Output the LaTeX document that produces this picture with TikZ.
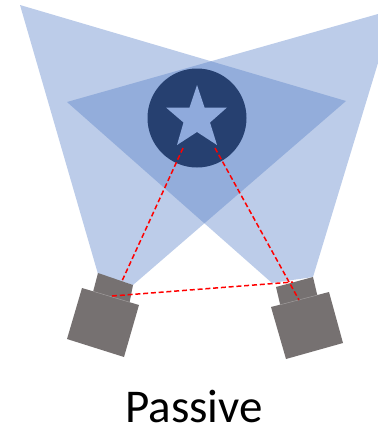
\documentclass[tikz,border=0pt]{standalone}
\usepackage{fontspec}
\setmainfont{Carlito}
\definecolor{cone}{HTML}{BCCCE9}
\definecolor{overlap}{HTML}{93ADDB}
\definecolor{disc}{HTML}{264070}
\definecolor{starc}{HTML}{8FAADC}
\definecolor{cam}{HTML}{767171}
\definecolor{seam}{HTML}{A09C9C}
\tikzset{
  conefill/.style={fill=cone,draw=none},
  camfill/.style={fill=cam,draw=none},
  seamline/.style={draw=seam,line width=0.5pt},
  ray/.style={draw=red,line width=1.5pt,dash pattern=on 5pt off 2.8pt},
}
\begin{document}
\begin{tikzpicture}[x=1pt,y=-1pt]
\useasboundingbox (0,0) rectangle (378,429);
\def\leftcone{(20,5) -- (346,101) -- (133,285) -- (98,274) -- cycle}
\def\rightcone{(378,14) -- (67,102) -- (272,283) -- (313,277) -- (378,63) -- cycle}
\path[conefill] \leftcone;
\path[conefill] \rightcone;
\begin{scope}
  \clip \leftcone;
  \path[fill=overlap] \rightcone;
\end{scope}
\fill[disc] (197,118) circle (49.5);
\fill[starc] (197,85) -- (204.5,107.5) -- (227,107.5) -- (210,122.5) -- (217,145) -- (197,132) -- (177,145) -- (183.5,122.5) -- (166,107.5) -- (189.5,107.5) -- cycle;
\path[camfill] (98,273) -- (133,285) -- (129.5,303) -- (93,292) -- cycle;
\path[camfill] (82,288) -- (139,305) -- (124,357) -- (67,339) -- cycle;
\path[camfill] (276,287) -- (313,277) -- (317.5,296) -- (280.5,306) -- cycle;
\path[camfill] (271,307) -- (329,292) -- (343,343) -- (286,359) -- cycle;
\draw[seamline] (93,291.3) -- (130,302.3);
\draw[seamline] (280,304.8) -- (317,295.2);
\coordinate (sl) at (183,148);
\coordinate (sr) at (215,148);
\coordinate (cl) at (122,281);
\coordinate (cr) at (299,300);
\coordinate (bl) at (112,296);
\coordinate (br) at (293,282);
\draw[ray] (sl) -- (cl);
\draw[ray] (sr) -- (cr);
\draw[ray] (bl) -- (br);
\node[font=\fontsize{47}{50}\selectfont,text=black,inner sep=0pt,anchor=base] (label) at (194,422) {Passive};
\end{tikzpicture}
\end{document}
